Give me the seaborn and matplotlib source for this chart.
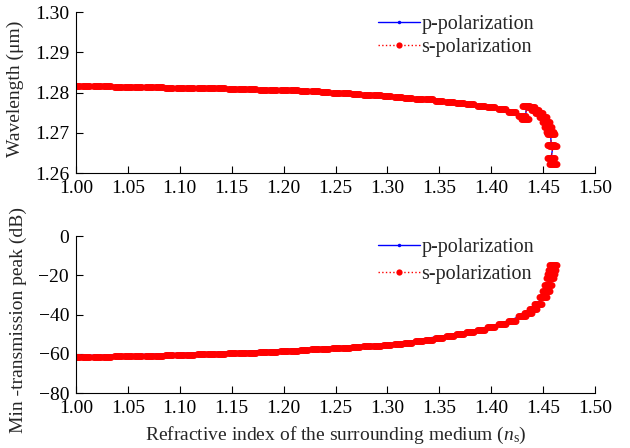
import matplotlib
matplotlib.use("Agg")
import matplotlib.pyplot as plt
from matplotlib.path import Path
import seaborn as sns
import numpy as np

sns.set_theme(style="ticks")
plt.rcParams['font.family'] = ['Liberation Serif', 'DejaVu Serif']
plt.rcParams['mathtext.fontset'] = 'custom'
plt.rcParams['mathtext.it'] = 'Liberation Serif:italic'
plt.rcParams['mathtext.rm'] = 'Liberation Serif'

# ---------------- data ----------------
# s-polarization (dense grid)
ns_s = [1.00, 1.01, 1.02, 1.03, 1.04, 1.05, 1.06, 1.07, 1.08, 1.09,
        1.10, 1.11, 1.12, 1.13, 1.14, 1.15, 1.16, 1.17, 1.18, 1.19,
        1.20, 1.21, 1.22, 1.23, 1.24, 1.25, 1.26, 1.27, 1.28, 1.29,
        1.30, 1.31, 1.32, 1.33, 1.34, 1.35, 1.36, 1.37, 1.38, 1.39,
        1.40, 1.41, 1.42, 1.43]
wl_s = [1.2816, 1.2816, 1.2815, 1.2815, 1.2814, 1.2814, 1.2814, 1.2813, 1.2813, 1.2812,
        1.2812, 1.2811, 1.2811, 1.2810, 1.2810, 1.2809, 1.2809, 1.2808, 1.2807, 1.2806,
        1.2806, 1.2805, 1.2804, 1.2803, 1.2801, 1.2800, 1.2799, 1.2797, 1.2795, 1.2793,
        1.2791, 1.2789, 1.2787, 1.2785, 1.2783, 1.2780, 1.2777, 1.2774, 1.2771, 1.2767,
        1.2763, 1.2758, 1.2752, 1.2742]
ns_s_end = [1.433, 1.434, 1.438, 1.442, 1.446, 1.450, 1.453, 1.455, 1.4568, 1.4575,
            1.4578, 1.4597, 1.4576, 1.4592]
wl_s_end = [1.2734, 1.2767, 1.2763, 1.2757, 1.2750, 1.2739, 1.2727, 1.2714, 1.2703, 1.2697,
            1.2669, 1.2668, 1.2637, 1.2622]

tp_s = [-61.8, -61.7, -61.6, -61.5, -61.4, -61.3, -61.2, -61.1, -60.9, -60.8,
        -60.6, -60.5, -60.3, -60.1, -60.0, -59.8, -59.6, -59.4, -59.1, -58.9,
        -58.6, -58.4, -58.1, -57.8, -57.5, -57.2, -56.9, -56.6, -56.3, -56.0,
        -55.6, -55.1, -54.5, -53.7, -52.8, -51.9, -51.0, -50.0, -49.0, -47.9,
        -46.6, -45.0, -43.1, -40.7]
ns_tp_s_end = [1.435, 1.440, 1.445, 1.450, 1.453, 1.455, 1.457, 1.458, 1.459, 1.4597]
tp_s_end = [-39.3, -37.2, -34.6, -31.2, -27.8, -24.8, -21.6, -19.5, -17.2, -15.0]

# p-polarization (coarser grid)
ns_p = [1.00, 1.02, 1.04, 1.06, 1.08, 1.10, 1.12, 1.14, 1.16, 1.18, 1.20,
        1.22, 1.24, 1.26, 1.28, 1.30, 1.32, 1.34, 1.36, 1.38, 1.40, 1.42]
wl_p = [1.2817, 1.2817, 1.2815, 1.2815, 1.2814, 1.2813, 1.2812, 1.2811, 1.2810, 1.2808, 1.2807,
        1.2805, 1.2802, 1.2800, 1.2796, 1.2792, 1.2788, 1.2784, 1.2778, 1.2772, 1.2764, 1.2753]
ns_p_end = [1.433, 1.434, 1.440, 1.446, 1.450, 1.453, 1.455, 1.4568, 1.4572,
            1.4578, 1.4597, 1.4576, 1.4592]
wl_p_end = [1.2734, 1.2768, 1.2760, 1.2751, 1.2740, 1.2728, 1.2716, 1.2705, 1.2700,
            1.2669, 1.2668, 1.2637, 1.2622]

tp_p = [-60.9, -60.8, -60.6, -60.4, -60.1, -59.8, -59.5, -59.2, -58.8, -58.3, -57.8,
        -57.3, -56.7, -56.1, -55.5, -54.8, -53.8, -52.0, -50.3, -48.3, -46.0, -42.6]
ns_tp_p_end = [1.43, 1.44, 1.45, 1.455, 1.458, 1.4597]
tp_p_end = [-40.3, -36.9, -30.9, -24.5, -19.2, -14.8]

xticks = [1.00, 1.05, 1.10, 1.15, 1.20, 1.25, 1.30, 1.35, 1.40, 1.45, 1.50]
wl_ticks = [1.26, 1.27, 1.28, 1.29, 1.30]
tp_ticks = [-80, -60, -40, -20, 0]

# ---------------- marker: horizontal capsule (overlapping dots form a band) ----
_t = np.linspace(-np.pi / 2, np.pi / 2, 12)
_right = np.column_stack([1.0 + np.cos(_t), np.sin(_t)])
_left = np.column_stack([-1.0 - np.cos(_t), -np.sin(_t)])
_verts = np.vstack([_right, _left, _right[:1]])
capsule = Path(_verts, closed=True)

# ---------------- figure ----------------
W, H = 630, 448
fig = plt.figure(figsize=(6.3, 4.48), dpi=100)
ax1 = fig.add_axes([76 / W, 1 - 173 / H, 519 / W, 161 / H])
ax2 = fig.add_axes([76 / W, 1 - 393 / H, 519 / W, 157 / H])

FS = 14

def draw(ax, xp, yp, xs, ys):
    sns.lineplot(x=xp, y=yp, ax=ax, color='blue', linestyle='-', linewidth=1.0,
                 marker='.', markersize=4, markeredgewidth=0, sort=False,
                 estimator=None, label='p-polarization')
    sns.lineplot(x=xs, y=ys, ax=ax, color='red', linestyle=':', linewidth=1.0,
                 marker=capsule, markersize=10, markeredgewidth=0, sort=False,
                 estimator=None, label='s-polarization')

draw(ax1, ns_p + ns_p_end, wl_p + wl_p_end, ns_s + ns_s_end, wl_s + wl_s_end)
draw(ax2, ns_p + ns_tp_p_end, tp_p + tp_p_end, ns_s + ns_tp_s_end, tp_s + tp_s_end)

legend_pos = {ax1: (378, 15, 0.17), ax2: (378, 238, 0.38)}
for ax in (ax1, ax2):
    ax.set_xlim(1.0, 1.5)
    ax.set_xticks(xticks)
    ax.set_xticklabels([f"{t:.2f}" for t in xticks])
    sns.despine(ax=ax)
    ax.tick_params(direction='in', length=5, width=0.8, labelsize=FS, pad=5, colors='black')
    for s in ('left', 'bottom'):
        ax.spines[s].set_color('black')
        ax.spines[s].set_linewidth(0.8)
    lx, ly, sp = legend_pos[ax]
    leg = ax.legend(frameon=False, fontsize=14.5, loc='upper left',
                    bbox_to_anchor=(lx / W, 1 - ly / H), bbox_transform=fig.transFigure,
                    handlelength=2.1, handletextpad=0.05, labelspacing=sp, borderpad=0.0,
                    borderaxespad=0.0)
    for h in leg.legend_handles:
        if h.get_color() == 'red':
            h.set_marker('o')
            h.set_markersize(4.5)
        else:
            h.set_markersize(5)

ax1.set_ylim(1.26, 1.30)
ax1.set_yticks(wl_ticks)
ax1.set_yticklabels([f"{t:.2f}" for t in wl_ticks])
ax1.set_ylabel('Wavelength (μm)', fontsize=FS)
ax1.yaxis.set_label_coords((24 - 76) / 519, (173 - 89) / 161)
ax1.set_xlabel('')

ax2.set_ylim(-80, 0)
ax2.set_yticks(tp_ticks)
ax2.set_yticklabels([('−' + str(abs(t))) if t < 0 else str(t) for t in tp_ticks])
ax2.set_ylabel('Min -transmission peak (dB)', fontsize=FS)
ax2.yaxis.set_label_coords((27 - 76) / 519, (393 - 320) / 157)
ax2.set_xlabel('Refractive index of the surrounding medium ($n_{\\mathrm{s}}$)', fontsize=FS, labelpad=6)

fig.savefig('out.png', dpi=100)
